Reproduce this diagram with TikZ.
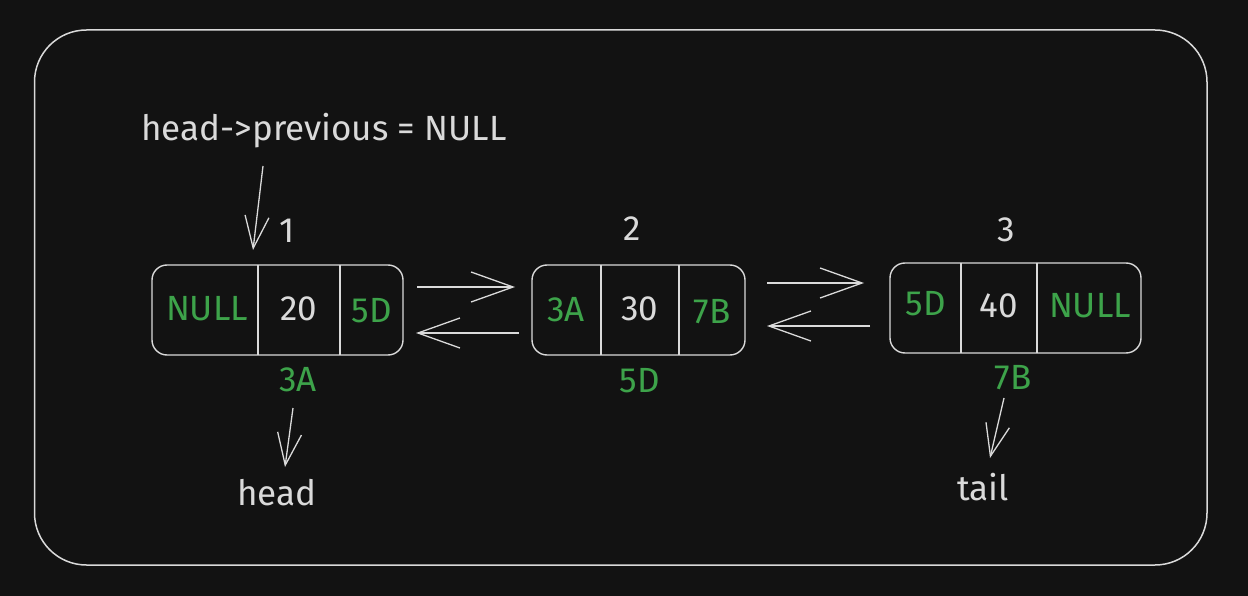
\documentclass[tikz,border=0pt]{standalone}
\usepackage{fontspec}
\setmainfont{Fira Sans}
\usetikzlibrary{arrows.meta}
\definecolor{bg}{HTML}{121212}
\definecolor{ink}{HTML}{DADADA}
\definecolor{grn}{HTML}{3DA34A}
\tikzset{
  frame/.style={draw=ink, line width=1.5pt, rounded corners=52pt},
  cellbox/.style={draw=ink, line width=1.4pt, rounded corners=15pt, inner sep=0pt},
  divider/.style={draw=ink, line width=1.2pt},
  lbl/.style={text=ink, font=\fontsize{35}{37}\selectfont, inner sep=0pt, anchor=center},
  glbl/.style={text=grn, font=\fontsize{35}{37}\selectfont, inner sep=0pt, anchor=center},
  harr/.style={draw=ink, line width=1.3pt, -{Straight Barb[length=42pt,width=30pt,line width=1.3pt]}},
  varr/.style={draw=ink, line width=1.3pt, -{Straight Barb[length=32pt,width=24pt,line width=1.3pt]}},
}
\begin{document}
\begin{tikzpicture}[x=1pt,y=-1pt]
\useasboundingbox (0,0) rectangle (1248,596);
\fill[bg] (0,0) rectangle (1248,596);
\draw[frame] (34.5,30) rectangle (1207,565);

% boxes
\node[cellbox, minimum width=251pt, minimum height=90pt] (b1) at (277.5,310) {};
\node[cellbox, minimum width=213pt, minimum height=90pt] (b2) at (638.5,310) {};
\node[cellbox, minimum width=251pt, minimum height=90pt] (b3) at (1015.5,308) {};
\draw[divider] (258,265) -- (258,355);
\draw[divider] (340,265) -- (340,355);
\draw[divider] (601,265) -- (601,355);
\draw[divider] (679,265) -- (679,355);
\draw[divider] (961,263) -- (961,353);
\draw[divider] (1037,263) -- (1037,353);

% cell texts
\node[glbl] (c11) at (207,309) {NULL};
\node[lbl]  (c12) at (299,309) {20};
\node[glbl] (c13) at (372,311) {5D};
\node[glbl] (c21) at (566,310) {3A};
\node[lbl]  (c22) at (640,309) {30};
\node[glbl] (c23) at (712,312) {7B};
\node[glbl] (c31) at (926,304) {5D};
\node[lbl]  (c32) at (999,306) {40};
\node[glbl] (c33) at (1090,306) {NULL};

% indices
\node[lbl] (i1) at (287,231) {1};
\node[lbl] (i2) at (632,229) {2};
\node[lbl] (i3) at (1006,230) {3};

% addresses
\node[glbl] (a1) at (298,380) {3A};
\node[glbl] (a2) at (640,381) {5D};
\node[glbl] (a3) at (1013,378) {7B};

% labels
\node[lbl] (prev) at (324,131) {head->previous = NULL};
\node[lbl] (head) at (277,493) {head};
\node[lbl] (tail) at (983,487) {tail};

% link arrows
\coordinate (f1s) at (417,287); \coordinate (f1e) at (515,287);
\coordinate (r1s) at (519,333); \coordinate (r1e) at (416,333);
\coordinate (f2s) at (767,283); \coordinate (f2e) at (864,283);
\coordinate (r2s) at (870,326); \coordinate (r2e) at (767,326);
\draw[harr] (f1s) -- (f1e);
\draw[harr] (r1s) -- (r1e);
\draw[harr] (f2s) -- (f2e);
\draw[harr] (r2s) -- (r2e);

% pointer arrows
\coordinate (p1s) at (263,166); \coordinate (p1e) at (253,250);
\coordinate (h1s) at (293,408); \coordinate (h1e) at (285,467);
\coordinate (t1s) at (1004,398); \coordinate (t1e) at (990,458);
\draw[varr] (p1s) -- (p1e);
\draw[varr] (h1s) -- (h1e);
\draw[varr] (t1s) -- (t1e);
\end{tikzpicture}
\end{document}
